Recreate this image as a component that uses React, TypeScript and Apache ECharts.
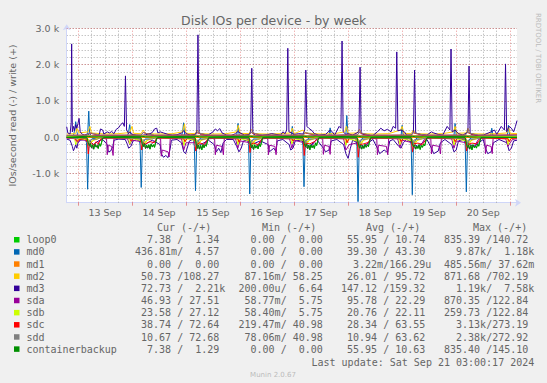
import React, { useEffect, useRef } from 'react';
import * as echarts from 'echarts';

// x values are hours relative to 13 Sep 2024 00:00
const HOUR_MIN = -5;
const HOUR_MAX = 195;
const dayLabels = ['13 Sep', '14 Sep', '15 Sep', '16 Sep', '17 Sep', '18 Sep', '19 Sep', '20 Sep'];
const dayNoonHours = [12, 36, 60, 84, 108, 132, 156, 180];
const midnightHours = [0, 24, 48, 72, 96, 120, 144, 168, 192];
const yMajorTicks = [-1000, 1000, 2000, 3000];

const devices = ['loop0', 'md0', 'md1', 'md2', 'md3', 'sda', 'sdb', 'sdc', 'sdd', 'containerbackup'];
const colors = ['#00CC00', '#0066B3', '#FF8000', '#FFCC00', '#330099', '#990099', '#CCFF00', '#FF0000', '#808080', '#008F00'];
const curRead = ['7.38', '436.81m', '0.00', '50.73', '72.73', '46.93', '23.58', '38.74', '10.67', '7.38'];
const curWrite = ['1.34', '4.57', '0.00', '108.27', '2.21k', '27.51', '27.12', '72.64', '72.68', '1.29'];
const minRead = ['0.00', '0.00', '0.00', '87.16m', '200.00u', '58.77m', '58.40m', '219.47m', '78.06m', '0.00'];
const minWrite = ['0.00', '0.00', '0.00', '58.25', '6.64', '5.75', '5.75', '40.98', '40.98', '0.00'];
const avgRead = ['55.95', '39.30', '3.22m', '26.01', '147.12', '95.78', '20.76', '28.34', '10.94', '55.95'];
const avgWrite = ['10.74', '43.30', '166.29u', '95.72', '159.32', '22.29', '22.11', '63.55', '63.62', '10.63'];
const maxRead = ['835.39', '9.87k', '485.56m', '871.68', '1.19k', '870.35', '259.73', '3.13k', '2.38k', '835.40'];
const maxWrite = ['140.72', '1.18k', '37.62m', '702.19', '7.58k', '122.84', '122.84', '273.19', '272.92', '145.10'];
const columnHeaders = ['Cur (-/+)', 'Min (-/+)', 'Avg (-/+)', 'Max (-/+)'];

// [hour, IOs/s] ; read values are shown negative
const loop0Read = [[-5,-5],[4,-10],[4.5,-120],[5,-220],[5.5,-160],[6,-280],[6.5,-200],[7,-320],[7.5,-180],[8,-260],[8.5,-230],[9,-300],[9.5,-170],[10,-250],[10.5,-140],[11,-20],[12,-5],
[28,-10],[28.5,-150],[29,-250],[29.5,-180],[30,-300],[30.5,-220],[31,-280],[31.5,-200],[32,-330],[32.5,-190],[33,-260],[33.5,-200],[34,-280],[34.5,-150],[35,-20],[36,-5],
[52,-10],[52.5,-180],[53,-300],[53.5,-200],[54,-320],[54.5,-230],[55,-350],[55.5,-210],[56,-280],[56.5,-200],[57,-250],[57.5,-120],[58,-10],
[76,-10],[76.5,-170],[77,-280],[77.5,-220],[78,-330],[78.5,-200],[79,-300],[79.5,-240],[80,-310],[80.5,-180],[81,-260],[81.5,-150],[82,-10],
[100,-10],[100.5,-160],[101,-250],[101.5,-190],[102,-300],[102.5,-220],[103,-350],[103.5,-200],[104,-280],[104.5,-230],[105,-300],[105.5,-160],[106,-220],[106.5,-100],[107,-10],
[124,-10],[124.5,-170],[125,-290],[125.5,-200],[126,-320],[126.5,-240],[127,-300],[127.5,-190],[128,-280],[128.5,-210],[129,-260],[129.5,-120],[130,-10],
[148,-10],[148.5,-160],[149,-270],[149.5,-210],[150,-330],[150.5,-250],[151,-300],[151.5,-200],[152,-340],[152.5,-220],[153,-280],[153.5,-190],[154,-240],[154.5,-110],[155,-10],
[172,-10],[172.5,-170],[173,-280],[173.5,-220],[174,-320],[174.5,-230],[175,-350],[175.5,-200],[176,-290],[176.5,-240],[177,-300],[177.5,-180],[178,-250],[178.5,-120],[179,-10],[195,-5]];
const loop0Write = [[-5,5],[4.5,30],[6,10],[28.5,30],[30,10],[52.5,30],[54,10],[76.5,30],[78,10],[100.5,30],[102,10],[124.5,30],[126,10],[148.5,30],[150,10],[172.5,30],[174,10],[195,5]];

const md0Read = [[-5,-10],[3,-20],[3.8,-150],[4.3,-1430],[4.8,-300],[5.5,-100],[6.5,-30],[27,-20],[27.6,-200],[28.1,-1380],[28.6,-250],[29.5,-80],[30.5,-20],
[51.2,-20],[51.7,-250],[52.2,-1470],[52.7,-300],[53.5,-100],[54.5,-20],[75.3,-20],[75.8,-200],[76.3,-1560],[76.8,-250],[77.5,-80],[78.5,-20],
[99.4,-20],[99.9,-220],[100.4,-1360],[100.9,-250],[101.5,-100],[102.5,-20],[123.4,-20],[123.9,-250],[124.4,-1770],[124.9,-300],[125.5,-100],[126.5,-20],
[147.5,-20],[148,-220],[148.5,-1580],[149,-280],[149.7,-100],[150.5,-20],[171.5,-20],[172,-200],[172.5,-1500],[173,-250],[173.7,-80],[174.5,-20],[195,-10]];
const md0Write = [[-5,30],[-2,40],[-1.5,200],[-1,430],[-0.5,150],[0,40],[4.3,60],[4.8,720],[5.2,100],[6,40],[22,40],[22.5,150],[23,350],[23.5,80],[24.5,30],
[46,40],[46.5,150],[46.9,400],[47.4,60],[48,30],[70.5,40],[71.1,380],[71.6,60],[72,30],[94.7,40],[95.2,300],[95.7,50],[96,30],[111.5,40],[112,260],[112.5,40],
[119,60],[119.4,600],[119.9,80],[120.5,30],[143.5,40],[144,330],[144.5,50],[145,30],[167,40],[167.5,380],[168,60],[168.5,30],[183.3,40],[183.8,250],[184.3,40],
[190.7,40],[191.2,330],[191.7,60],[192.5,30],[195,40]];

const md1Read = [[-5,0],[195,0]];
const md1Write = [[-5,0],[195,0]];

const md2Read = [[-5,-10],[-0.5,-20],[0,-120],[0.8,-30],[4.5,-40],[5.5,-130],[7,-80],[9,-40],[11,-10],[23.5,-20],[24,-110],[24.8,-20],[28.5,-50],[29.5,-140],[31,-80],[33,-40],[35,-10],
[47,-20],[47.6,-130],[48.4,-20],[52.5,-50],[53.5,-150],[55,-80],[57,-40],[58,-10],[71,-20],[71.6,-120],[72.4,-20],[76.5,-50],[77.5,-140],[79,-80],[81,-40],[82,-10],
[95,-20],[95.6,-110],[96.4,-20],[100.5,-50],[101.5,-130],[103,-80],[105,-40],[107,-10],[119,-20],[119.6,-140],[120.4,-20],[124.5,-50],[125.5,-150],[127,-80],[129,-40],[130,-10],
[143,-20],[143.6,-120],[144.4,-20],[148.5,-50],[149.5,-140],[151,-80],[153,-40],[155,-10],[167,-20],[167.6,-130],[168.4,-20],[172.5,-50],[173.5,-140],[175,-80],[177,-40],[179,-10],
[191,-20],[191.6,-120],[192.4,-20],[195,-10]];
const md2Write = [[-5,90],[-1,100],[-0.5,250],[0.5,120],[4.5,150],[5.3,300],[6,120],[12,90],[18,100],[23,130],[24,300],[24.7,110],[28,100],[29,200],[30,100],[36,90],[42,100],
[46.5,150],[47.3,370],[48,110],[52,100],[53,200],[54,100],[60,90],[66,100],[70.5,150],[71.2,330],[72,110],[76,100],[77,220],[78,100],[84,90],[90,100],
[94.5,120],[95.2,250],[96,100],[100,200],[100.8,120],[108,90],[114,100],[118.5,150],[119.3,300],[120,110],[124,120],[125,220],[126,100],[132,90],[138,100],
[143.3,200],[144,300],[144.7,110],[148,100],[149,200],[150,100],[156,90],[162,100],[166.8,150],[167.5,300],[168.2,110],[172.5,120],[173.2,250],[174,100],
[180,90],[186,100],[190.5,120],[191.2,280],[192,110],[195,100]];

const md3Read = [[-5,-50],[-3.5,-80],[-2.5,-250],[-2,-370],[-1.5,-300],[-1,-200],[-0.5,-300],[0,-150],[1,-80],[3,-60],[4.5,-150],[5.5,-120],[7,-200],[8,-150],[9,-100],[11,-60],
[13,-200],[13.5,-400],[14.5,-380],[15.5,-250],[16,-80],[18,-50],[21,-60],[22,-200],[22.5,-300],[23.5,-250],[24.5,-100],[26,-60],[28.5,-150],[30,-200],[31,-150],[33,-80],
[36.5,-200],[37,-450],[38,-550],[39,-500],[40,-560],[41,-300],[41.5,-80],[44,-60],[46,-150],[47,-400],[47.8,-450],[48.5,-300],[49.5,-100],[51,-60],[53,-150],[54.5,-200],[56,-150],[58,-80],
[60.5,-200],[61.5,-400],[62.5,-300],[63.5,-420],[64.5,-150],[66,-60],[69,-60],[70.5,-250],[71.5,-400],[72.5,-300],[73.5,-100],[75,-80],[77,-200],[79,-150],[81,-100],
[84.5,-200],[85,-400],[87,-300],[88,-400],[88.5,-100],[91,-60],[93.8,-200],[94.5,-350],[95.5,-300],[96.5,-100],[99,-80],[101.5,-200],[103,-250],[104.5,-150],[106,-60],
[109,-300],[110,-400],[111.5,-350],[112.5,-100],[115,-60],[118,-200],[119,-450],[120,-580],[121,-300],[122,-80],[125.5,-200],[127,-250],[129,-150],[131,-60],
[133,-300],[134,-450],[136,-350],[137.5,-420],[138.5,-100],[140,-60],[142.5,-250],[143.5,-300],[144.5,-150],[146,-60],[149.5,-200],[151,-250],[153,-150],[155,-60],
[157,-300],[158,-450],[160,-380],[161,-150],[163,-60],[166,-200],[167,-400],[168,-350],[169,-100],[171,-60],[174,-200],[176,-250],[178,-150],[180,-60],
[181,-300],[182,-450],[183.5,-400],[184.5,-150],[187,-60],[190.5,-150],[191.5,-370],[192.5,-300],[193.5,-100],[195,-80]];
const md3Write = [[-5,290],[-4.5,120],[-3.5,90],[-3,400],[-2.8,2570],[-2.5,150],[-2,300],[-1.5,180],[-1,350],[-0.5,250],[0,380],[0.5,520],[1,150],[2,80],[3,60],[4,90],[5,60],[6,50],[8,60],
[9.5,80],[10,230],[11,200],[11.5,90],[13,150],[14,120],[15,160],[16,100],[17,220],[18,260],[19,350],[20,400],[20.6,300],[21.1,1690],[21.6,200],[22.5,100],[23,150],[24,80],
[26,60],[28,50],[30,70],[32,100],[33,130],[34,230],[35,250],[35.5,120],[36.5,150],[38,120],[40,80],[42,60],[44,70],[46,120],[47,180],[48,100],[50,60],[52,80],
[52.8,150],[53.3,2820],[53.8,120],[55,60],[58,70],[60,150],[61,230],[62,180],[63,240],[64,120],[66,60],[68,50],[70,100],[71,160],[72,120],[74,60],[76,80],
[76.7,150],[77.2,1900],[77.7,100],[79,50],[82,60],[84,70],[86,100],[88,80],[90,60],[91,150],[92,100],[92.7,200],[93.2,2450],[93.7,150],[95,120],[96,80],[98,100],[100,90],
[100.7,200],[101.2,1850],[101.7,300],[102.5,250],[104,180],[105,100],[107,60],[110,80],[112,200],[113,150],[114,60],[116,300],[116.8,250],[117.3,2650],[117.8,150],
[119,80],[120,100],[122,60],[124.8,150],[125.3,1930],[125.8,100],[128,60],[131,50],[133,150],[134.5,250],[136,180],[137.5,220],[139,150],[140,300],[141.1,250],
[141.6,2350],[142.1,180],[143.5,200],[145,150],[146,60],[148,60],[149,150],[149.5,1850],[150,120],[152,80],[155,60],[157,150],[158,120],[160,80],[162,60],[164,300],
[165.2,200],[165.7,2430],[166.2,150],[167.5,200],[169,100],[171,60],[173.2,150],[173.7,1960],[174.2,100],[176,50],[180,60],[183.5,150],[185,200],[186,80],[188,300],
[189.4,200],[189.9,2020],[190.4,150],[191.5,300],[192.5,250],[193.5,150],[194.3,300],[195,460]];

const sdaRead = [[-5,-20],[-1,-40],[0,-150],[1,-60],[4.5,-100],[5.5,-250],[6.5,-300],[7.5,-200],[8.5,-280],[9.5,-100],[11,-30],
[12.7,-30],[13,-480],[13.5,-220],[15,-250],[15.6,-500],[16,-30],[22,-40],[23,-200],[24,-80],[28.5,-120],[29.5,-250],[31,-300],[32.5,-200],[34,-100],[35.5,-30],
[36.7,-30],[37,-520],[37.5,-350],[40,-400],[40.5,-540],[41,-30],[46,-40],[47,-350],[48,-150],[52.5,-150],[53.5,-300],[55,-280],[56.5,-200],[58,-40],
[60.7,-30],[61,-480],[61.5,-220],[64,-250],[64.6,-480],[65,-30],[70,-40],[71,-300],[72,-100],[76.5,-150],[77.5,-300],[79,-250],[80.5,-200],[82,-40],
[84.3,-30],[84.6,-480],[85.1,-220],[87.5,-250],[88,-480],[88.4,-30],[94,-40],[95,-300],[96,-80],[100.5,-150],[101.5,-280],[103,-300],[104.5,-180],[106,-40],
[108.7,-30],[109,-470],[109.5,-220],[111.5,-250],[112,-470],[112.4,-30],[118,-40],[119,-350],[120.5,-200],[124.5,-150],[125.5,-300],[127,-280],[128.5,-200],[130,-40],
[132.7,-30],[133,-480],[133.5,-220],[137,-250],[137.6,-480],[138,-30],[142,-40],[143,-280],[144,-80],[148.5,-150],[149.5,-300],[151,-280],[152.5,-200],[154,-40],
[156.7,-30],[157,-460],[157.5,-220],[160.5,-250],[161,-460],[161.4,-30],[166,-40],[167,-300],[168,-100],[172.5,-150],[173.5,-300],[175,-280],[176.5,-200],[178,-40],
[180.7,-30],[181,-450],[181.5,-220],[183.5,-250],[184,-450],[184.4,-30],[190,-40],[191,-250],[192,-150],[193,-60],[195,-40]];
const sdaWrite = [[-5,20],[0,60],[1,20],[5,40],[13,40],[24,50],[37,40],[48,60],[61,40],[72,50],[85,40],[96,50],[109,40],[120,60],[133,40],[144,50],[157,40],[168,50],[181,40],[192,50],[195,25]];

const sdbRead = [[-5,-5],[-1.5,-20],[-1,-200],[-0.3,-120],[0.5,-30],[4.5,-80],[5.5,-180],[6.5,-100],[8,-40],[10,-10],[22.5,-20],[23,-180],[24,-30],[28.5,-100],[29.5,-200],[31,-60],[34,-10],
[46.5,-20],[47,-220],[48,-40],[52.5,-90],[53.5,-200],[55,-60],[58,-10],[70.5,-20],[71,-200],[72,-40],[76.5,-100],[77.5,-220],[79,-60],[82,-10],
[94.5,-20],[95,-180],[96,-40],[100.5,-90],[101.5,-200],[103,-60],[106,-10],[118.5,-20],[119,-220],[120,-40],[124.5,-110],[125.5,-220],[127,-60],[130,-10],
[142.5,-20],[143,-200],[144,-40],[148.5,-100],[149.5,-200],[151,-60],[154,-10],[166.5,-20],[167,-210],[168,-40],[172.5,-100],[173.5,-210],[175,-60],[178,-10],
[190.5,-20],[191,-200],[192,-40],[195,-10]];
const sdbWrite = [[-5,20],[5,40],[12,15],[29,40],[36,15],[53,40],[60,15],[77,40],[84,15],[101,40],[108,15],[125,40],[132,15],[149,40],[156,15],[173,40],[180,15],[195,25]];

const sdcRead = [[-5,-10],[-1.5,-30],[-0.5,-120],[0.5,-60],[3.5,-30],[4.2,-150],[4.6,-460],[5,-200],[6,-150],[7,-220],[8,-120],[9,-180],[10,-60],[11,-20],
[23,-30],[23.5,-100],[24.5,-30],[27.8,-40],[28.3,-350],[28.8,-150],[30,-180],[32,-120],[34,-150],[35,-20],[47,-40],[47.5,-120],[48.5,-30],
[51.8,-40],[52.3,-380],[52.8,-200],[54,-150],[56,-200],[57.5,-60],[58,-20],[71,-40],[71.5,-130],[72.5,-30],[75.9,-40],[76.4,-420],[76.9,-180],[78,-160],[80,-200],[82,-20],
[95,-40],[95.5,-100],[96.5,-30],[100,-40],[100.5,-500],[101,-160],[103,-180],[105,-120],[107,-20],[119,-40],[119.5,-150],[120.5,-30],
[124,-40],[124.5,-550],[125,-200],[127,-180],[129,-140],[130,-20],[143,-40],[143.5,-120],[144.5,-30],[148,-40],[148.6,-400],[149.1,-180],[151,-160],[153,-200],[155,-20],
[167,-40],[167.5,-120],[168.5,-30],[172,-40],[172.6,-380],[173.1,-200],[175,-160],[177,-180],[179,-20],[191,-40],[191.5,-120],[192.5,-30],[195,-20]];
const sdcWrite = [[-5,50],[4,60],[5,120],[7,90],[10,55],[28,60],[29,130],[31,90],[34,55],[52,60],[53,120],[55,90],[58,55],[76,60],[77,130],[79,90],[82,55],
[100,60],[101,120],[103,90],[106,55],[124,60],[125,130],[127,90],[130,55],[148,60],[149,120],[151,90],[154,55],[172,60],[173,130],[175,90],[178,55],[195,70]];

const sddRead = [[-5,-5],[-0.5,-40],[0.5,-10],[4.1,-30],[4.6,-220],[5.1,-80],[6.5,-60],[8.5,-50],[10,-10],[28,-30],[28.5,-200],[29,-70],[31,-60],[33,-40],[35,-10],
[52,-30],[52.5,-230],[53,-80],[55,-60],[57,-40],[58,-10],[76.1,-30],[76.6,-250],[77.1,-80],[79,-60],[81,-40],[82,-10],[100.2,-30],[100.7,-200],[101.2,-70],[103,-60],[105,-40],[107,-10],
[124.2,-30],[124.7,-260],[125.2,-80],[127,-60],[129,-40],[130,-10],[148.3,-30],[148.8,-220],[149.3,-70],[151,-60],[153,-40],[155,-10],[172.3,-30],[172.8,-230],[173.3,-80],[175,-60],[177,-40],[179,-10],[195,-5]];
const sddWrite = [[-5,55],[4,60],[5,130],[7,100],[10,60],[28,60],[29,140],[31,90],[34,60],[52,60],[53,130],[55,100],[58,60],[76,60],[77,140],[79,100],[82,60],
[100,60],[101,130],[103,100],[106,60],[124,60],[125,140],[127,100],[130,60],[148,60],[149,130],[151,100],[154,60],[172,60],[173,140],[175,100],[178,60],[195,60]];

const containerbackupRead = [[-5,-5],[4,-10],[4.5,-140],[5,-230],[5.5,-170],[6,-290],[6.5,-210],[7,-330],[7.5,-190],[8,-270],[8.5,-220],[9,-310],[9.5,-180],[10,-240],[10.5,-140],[11,-20],[12,-5],
[28,-10],[28.5,-160],[29,-260],[29.5,-170],[30,-310],[30.5,-210],[31,-290],[31.5,-210],[32,-320],[32.5,-180],[33,-270],[33.5,-210],[34,-270],[34.5,-140],[35,-20],[36,-5],
[52,-10],[52.5,-170],[53,-310],[53.5,-210],[54,-330],[54.5,-220],[55,-340],[55.5,-200],[56,-290],[56.5,-210],[57,-240],[57.5,-110],[58,-10],
[76,-10],[76.5,-160],[77,-290],[77.5,-210],[78,-340],[78.5,-210],[79,-290],[79.5,-230],[80,-320],[80.5,-190],[81,-250],[81.5,-140],[82,-10],
[100,-10],[100.5,-170],[101,-260],[101.5,-180],[102,-310],[102.5,-210],[103,-340],[103.5,-210],[104,-290],[104.5,-220],[105,-310],[105.5,-150],[106,-230],[106.5,-90],[107,-10],
[124,-10],[124.5,-160],[125,-300],[125.5,-210],[126,-330],[126.5,-230],[127,-310],[127.5,-200],[128,-270],[128.5,-220],[129,-250],[129.5,-110],[130,-10],
[148,-10],[148.5,-170],[149,-260],[149.5,-220],[150,-320],[150.5,-240],[151,-310],[151.5,-210],[152,-330],[152.5,-230],[153,-270],[153.5,-200],[154,-230],[154.5,-100],[155,-10],
[172,-10],[172.5,-160],[173,-290],[173.5,-210],[174,-330],[174.5,-220],[175,-340],[175.5,-210],[176,-280],[176.5,-250],[177,-290],[177.5,-190],[178,-240],[178.5,-110],[179,-10],[195,-5]];
const containerbackupWrite = [[-5,5],[4.5,28],[6,10],[28.5,28],[30,10],[52.5,28],[54,10],[76.5,28],[78,10],[100.5,28],[102,10],[124.5,28],[126,10],[148.5,28],[150,10],[172.5,28],[174,10],[195,5]];

const readData = [loop0Read, md0Read, md1Read, md2Read, md3Read, sdaRead, sdbRead, sdcRead, sddRead, containerbackupRead];
const writeData = [loop0Write, md0Write, md1Write, md2Write, md3Write, sdaWrite, sdbWrite, sdcWrite, sddWrite, containerbackupWrite];

const FONT_COLOR = '#666666';
const MONO = '"DejaVu Sans Mono", monospace';
const SANS = '"DejaVu Sans", sans-serif';

export default function App() {
  const ref = useRef<HTMLDivElement>(null);
  useEffect(() => {
    document.body.style.margin = '0';
    const chart = echarts.init(ref.current!, null, { renderer: 'svg' });

    const gridMarks: any[] = [];
    for (let h = 6; h < HOUR_MAX; h += 6) {
      if (h % 24 === 0) continue;
      gridMarks.push({ xAxis: h, lineStyle: { color: 'rgba(143,143,143,0.75)', type: [1, 2], width: 1 } });
    }
    midnightHours.forEach((h) => gridMarks.push({ xAxis: h, lineStyle: { color: 'rgba(222,79,79,0.6)', type: [1, 2], width: 1 } }));
    yMajorTicks.forEach((v) => gridMarks.push({ yAxis: v, lineStyle: { color: 'rgba(222,79,79,0.6)', type: [1, 2], width: 1 } }));

    const series: any[] = [
      {
        type: 'line', data: [[HOUR_MIN, 0], [HOUR_MAX, 0]], symbol: 'none', silent: true, z: 1,
        lineStyle: { opacity: 0 },
        markLine: { silent: true, symbol: ['none', 'none'], z: 1, label: { show: false }, animation: false, data: gridMarks },
      },
      {
        type: 'line', data: [[HOUR_MIN, 0], [HOUR_MAX, 0]], symbol: 'none', silent: true, z: 2,
        lineStyle: { color: '#000000', width: 1 },
      },
    ];
    devices.forEach((d, i) => {
      [readData[i], writeData[i]].forEach((data, k) => {
        series.push({
          name: d + (k === 0 ? '_read' : '_write'),
          type: 'line', data, symbol: 'none', showSymbol: false, silent: true, z: 3 + i,
          lineStyle: { color: colors[i], width: 1 },
          itemStyle: { color: colors[i] },
        });
      });
    });

    const cw = 6.02;
    const rowY0 = 239.8;
    const rowH = 12.15;
    const colX = [135, 238.5, 341, 444];
    const headerX = [157, 262, 366, 473];
    const hasUnit = (s: string) => /[a-zA-Z]$/.test(s);
    const txt = (text: string, x: number, y: number, align: string, font: string, fill = FONT_COLOR, rotation = 0) => ({
      type: 'text', x, y, rotation, silent: true,
      style: { text, font, fill, align, textAlign: align, verticalAlign: 'middle', textVerticalAlign: 'middle' },
    });
    const graphics: any[] = [];
    columnHeaders.forEach((h, j) => graphics.push(txt(h, headerX[j], 227.7, 'left', `10px ${MONO}`)));
    const cols = [[curRead, curWrite], [minRead, minWrite], [avgRead, avgWrite], [maxRead, maxWrite]];
    devices.forEach((d, i) => {
      const y = rowY0 + i * rowH;
      graphics.push({ type: 'rect', shape: { x: 14, y: y - 2.8, width: 5.5, height: 5.5 }, style: { fill: colors[i] }, silent: true });
      graphics.push(txt(d, 26.5, y, 'left', `10px ${MONO}`));
      cols.forEach(([r, w], j) => {
        const rs = r[i];
        const ws = w[i];
        graphics.push(txt(rs + (hasUnit(rs) ? '' : ' ') + '/', colX[j] + 8 * cw, y, 'right', `10px ${MONO}`));
        graphics.push(txt(ws, colX[j] + (hasUnit(ws) ? 15 : 14) * cw, y, 'right', `10px ${MONO}`));
      });
    });
    graphics.push(txt('Last update: Sat Sep 21 03:00:17 2024', 311.5, 362, 'left', `10px ${MONO}`));
    graphics.push(txt('Munin 2.0.67', 273, 375, 'center', `7px ${SANS}`, '#BBBBBB'));
    graphics.push(txt('Disk IOs per device - by week', 273.7, 20.2, 'center', `12.5px ${SANS}`));
    graphics.push(txt('IOs/second read (-) / write (+)', 12, 115.5, 'center', `9.5px ${SANS}`, FONT_COLOR, Math.PI / 2));
    graphics.push(txt('RRDTOOL / TOBI OETIKER', 538, 58, 'center', `7px ${SANS}`, '#BBBBBB', -Math.PI / 2));

    chart.setOption({
      animation: false,
      backgroundColor: '#F0F0F0',
      grid: { left: 66.7, right: 30, top: 28.3, bottom: 180.3, show: true, backgroundColor: '#FFFFFF', borderWidth: 0 },
      xAxis: {
        type: 'value', min: HOUR_MIN, max: HOUR_MAX,
        axisLine: { show: true, onZero: false, lineStyle: { color: '#CFD6F8', width: 1 }, symbol: ['none', 'arrow'], symbolSize: [6, 6], symbolOffset: [0, 4] },
        axisTick: { show: true, customValues: midnightHours, length: 3, lineStyle: { color: 'rgba(222,79,79,0.6)' } },
        axisLabel: {
          customValues: dayNoonHours, margin: 5, color: FONT_COLOR, fontFamily: SANS, fontSize: 9.5,
          formatter: (v: number) => dayLabels[dayNoonHours.indexOf(v)] ?? '',
        },
        splitLine: { show: false },
      },
      yAxis: {
        type: 'value', min: -1800, max: 3000, interval: 200,
        axisLine: { show: true, onZero: false, lineStyle: { color: '#CFD6F8', width: 1 }, symbol: ['none', 'arrow'], symbolSize: [6, 6], symbolOffset: [0, 4] },
        axisTick: { show: false },
        axisLabel: {
          margin: 7.5, color: FONT_COLOR, fontFamily: SANS, fontSize: 9.5,
          formatter: (v: number) => (v % 1000 !== 0 ? '' : v === 0 ? '0.0' : (v / 1000).toFixed(1) + ' k'),
        },
        splitLine: { show: true, lineStyle: { color: 'rgba(143,143,143,0.75)', type: [1, 2], width: 1 } },
      },
      graphic: { elements: graphics },
      series,
    });
    return () => chart.dispose();
  }, []);
  return <div ref={ref} style={{ position: 'fixed', left: 0, top: 0, width: 547, height: 383 }} />;
}
